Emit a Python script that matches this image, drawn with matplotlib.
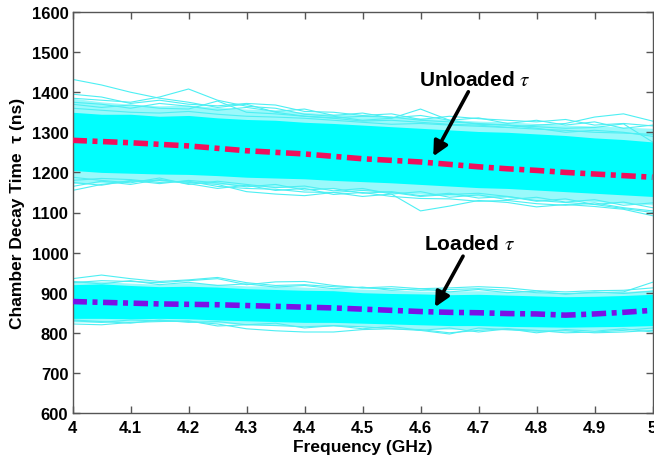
import matplotlib
matplotlib.use("Agg")
import matplotlib.pyplot as plt

plt.rcParams['font.family'] = ['Liberation Sans', 'DejaVu Sans']
plt.rcParams['mathtext.fontset'] = 'stix'

freq = [4.00, 4.05, 4.10, 4.15, 4.20, 4.25, 4.30, 4.35, 4.40, 4.45, 4.50,
        4.55, 4.60, 4.65, 4.70, 4.75, 4.80, 4.85, 4.90, 4.95, 5.00]

# ---- Unloaded ensemble ----
unloaded_mean = [1280, 1277, 1274, 1270, 1266, 1260, 1254, 1250, 1246, 1240, 1234,
                 1230, 1226, 1220, 1214, 1209, 1205, 1200, 1196, 1192, 1188]
unloaded_core_hi = [1350, 1345, 1345, 1340, 1342, 1336, 1332, 1330, 1325, 1322, 1318,
                    1314, 1310, 1306, 1302, 1300, 1296, 1292, 1286, 1282, 1276]
unloaded_core_lo = [1205, 1200, 1198, 1196, 1195, 1192, 1188, 1186, 1184, 1180, 1177,
                    1174, 1170, 1166, 1162, 1160, 1156, 1152, 1148, 1144, 1140]
unloaded_outer_hi = [1385, 1376, 1370, 1366, 1368, 1362, 1358, 1356, 1350, 1346, 1343,
                     1340, 1336, 1332, 1328, 1326, 1322, 1318, 1316, 1313, 1310]
unloaded_outer_lo = [1172, 1174, 1177, 1179, 1176, 1171, 1166, 1163, 1161, 1159, 1156,
                     1151, 1146, 1143, 1141, 1137, 1133, 1131, 1127, 1123, 1119]
unloaded_runs = [
    [1432, 1418, 1400, 1385, 1375, 1362, 1370, 1350, 1340, 1335, 1328,
     1330, 1325, 1320, 1318, 1312, 1308, 1305, 1300, 1298, 1295],
    [1385, 1380, 1375, 1388, 1408, 1380, 1365, 1360, 1345, 1340, 1330,
     1335, 1358, 1330, 1320, 1318, 1310, 1300, 1305, 1300, 1290],
    [1360, 1355, 1350, 1348, 1352, 1345, 1340, 1338, 1335, 1330, 1325,
     1320, 1322, 1318, 1315, 1312, 1318, 1322, 1338, 1346, 1328],
    [1370, 1362, 1368, 1360, 1358, 1378, 1350, 1346, 1340, 1336, 1340,
     1338, 1330, 1326, 1322, 1318, 1314, 1310, 1312, 1321, 1276],
    [1395, 1388, 1372, 1380, 1370, 1366, 1372, 1368, 1352, 1350, 1342,
     1346, 1332, 1340, 1334, 1330, 1326, 1332, 1318, 1322, 1316],
    [1375, 1370, 1360, 1372, 1365, 1355, 1362, 1352, 1358, 1342, 1348,
     1336, 1342, 1330, 1336, 1322, 1330, 1318, 1326, 1310, 1318],
    [1155, 1170, 1178, 1180, 1175, 1170, 1152, 1146, 1142, 1150, 1155,
     1150, 1140, 1145, 1148, 1140, 1130, 1125, 1120, 1110, 1100],
    [1180, 1185, 1182, 1175, 1178, 1165, 1160, 1158, 1151, 1150, 1140,
     1146, 1104, 1116, 1130, 1125, 1114, 1120, 1115, 1108, 1092],
    [1165, 1178, 1170, 1182, 1172, 1160, 1168, 1155, 1160, 1145, 1150,
     1140, 1135, 1134, 1128, 1130, 1122, 1118, 1124, 1112, 1104],
    [1175, 1168, 1180, 1172, 1180, 1174, 1164, 1170, 1156, 1160, 1148,
     1152, 1142, 1148, 1136, 1140, 1128, 1134, 1120, 1126, 1112],
    [1188, 1180, 1174, 1186, 1170, 1178, 1170, 1162, 1166, 1154, 1160,
     1146, 1152, 1138, 1144, 1132, 1138, 1126, 1132, 1118, 1124],
]

# ---- Loaded ensemble ----
loaded_mean = [878, 876, 874, 872, 871, 870, 868, 866, 864, 862, 859,
               856, 853, 851, 850, 848, 847, 844, 847, 851, 856]
loaded_core_hi = [920, 922, 918, 915, 916, 914, 910, 908, 906, 905, 900,
                  898, 897, 895, 896, 894, 892, 890, 891, 893, 896]
loaded_core_lo = [836, 836, 835, 836, 835, 832, 830, 828, 826, 826, 824,
                  822, 820, 818, 818, 816, 815, 814, 815, 816, 818]
loaded_outer_hi = [930, 928, 924, 921, 925, 921, 917, 917, 914, 911, 909,
                   907, 904, 904, 905, 903, 901, 899, 901, 903, 907]
loaded_outer_lo = [827, 826, 829, 830, 829, 825, 821, 819, 817, 817, 815,
                   813, 809, 809, 809, 807, 806, 805, 807, 807, 809]
loaded_runs = [
    [935, 944, 935, 928, 932, 938, 925, 918, 920, 915, 912,
     910, 906, 908, 910, 906, 900, 898, 900, 902, 926],
    [925, 930, 928, 925, 930, 935, 920, 927, 928, 918, 912,
     915, 910, 912, 915, 912, 905, 902, 905, 906, 912],
    [928, 922, 930, 920, 926, 918, 922, 914, 918, 910, 914,
     906, 910, 902, 908, 900, 904, 896, 902, 898, 904],
    [830, 826, 832, 830, 828, 822, 810, 805, 802, 802, 808,
     810, 808, 800, 806, 810, 806, 800, 802, 806, 812],
    [822, 820, 826, 828, 830, 817, 820, 818, 815, 818, 815,
     810, 806, 797, 812, 808, 804, 805, 800, 802, 806],
    [832, 828, 824, 832, 826, 828, 820, 824, 812, 818, 810,
     816, 806, 812, 802, 810, 800, 808, 804, 810, 802],
]

x_ticks = [4.0, 4.1, 4.2, 4.3, 4.4, 4.5, 4.6, 4.7, 4.8, 4.9, 5.0]
x_labels = ['4', '4.1', '4.2', '4.3', '4.4', '4.5', '4.6', '4.7', '4.8', '4.9', '5']
y_ticks = [600, 700, 800, 900, 1000, 1100, 1200, 1300, 1400, 1500, 1600]

fig = plt.figure(figsize=(6.54, 4.64), dpi=100)
ax = fig.add_axes([72.5 / 654, 1 - 414 / 464, 580 / 654, 401 / 464])

cyan = '#00FFFF'
light = '#9AF9FB'
runc = '#4DEFF3'

for hi, lo, ohi, olo, runs in [
        (unloaded_core_hi, unloaded_core_lo, unloaded_outer_hi, unloaded_outer_lo, unloaded_runs),
        (loaded_core_hi, loaded_core_lo, loaded_outer_hi, loaded_outer_lo, loaded_runs)]:
    ax.fill_between(freq, olo, ohi, color=light, lw=0, zorder=1)
    ax.fill_between(freq, lo, hi, color=cyan, lw=0, zorder=2)
    for r in runs:
        ax.plot(freq, r, color=runc, lw=0.8, zorder=1.5)

ax.plot(freq, unloaded_mean, color='#F0105C', lw=4.0, linestyle=(0, (2.6, 1.0, 0.9, 1.0)),
        dash_capstyle='butt', zorder=5)
ax.plot(freq, loaded_mean, color='#7A12E6', lw=4.0, linestyle=(0, (2.6, 1.0, 0.9, 1.0)),
        dash_capstyle='butt', zorder=5)

arrow = dict(arrowstyle='-|>', color='black', lw=2.6, mutation_scale=22, shrinkA=0, shrinkB=0)
ax.annotate('Unloaded $\\tau$', xy=(4.622, 1240), xytext=(4.694, 1408),
            arrowprops=arrow, ha='center', va='bottom', fontsize=15, fontweight='bold',
            zorder=6)
ax.annotate('Loaded $\\tau$', xy=(4.625, 864), xytext=(4.685, 998),
            arrowprops=arrow, ha='center', va='bottom', fontsize=15, fontweight='bold',
            zorder=6)

ax.set_xlim(4, 5)
ax.set_ylim(600, 1600)
ax.set_xticks(x_ticks)
ax.set_xticklabels(x_labels)
ax.set_yticks(y_ticks)
for lab in ax.get_xticklabels() + ax.get_yticklabels():
    lab.set_fontweight('bold')
    lab.set_fontsize(12)
ax.tick_params(direction='in', length=5, width=1, color='#555555', top=True, right=True)
ax.tick_params(axis='x', pad=5)
ax.tick_params(axis='y', pad=3)
for s in ax.spines.values():
    s.set_color('#555555')
    s.set_linewidth(1)

ax.set_xlabel('Frequency (GHz)', fontsize=12.5, fontweight='bold', labelpad=3)
ax.set_ylabel('Chamber Decay Time  \u03c4 (ns)', fontsize=12.5, fontweight='bold', labelpad=5)

fig.savefig('out.png', dpi=100)
